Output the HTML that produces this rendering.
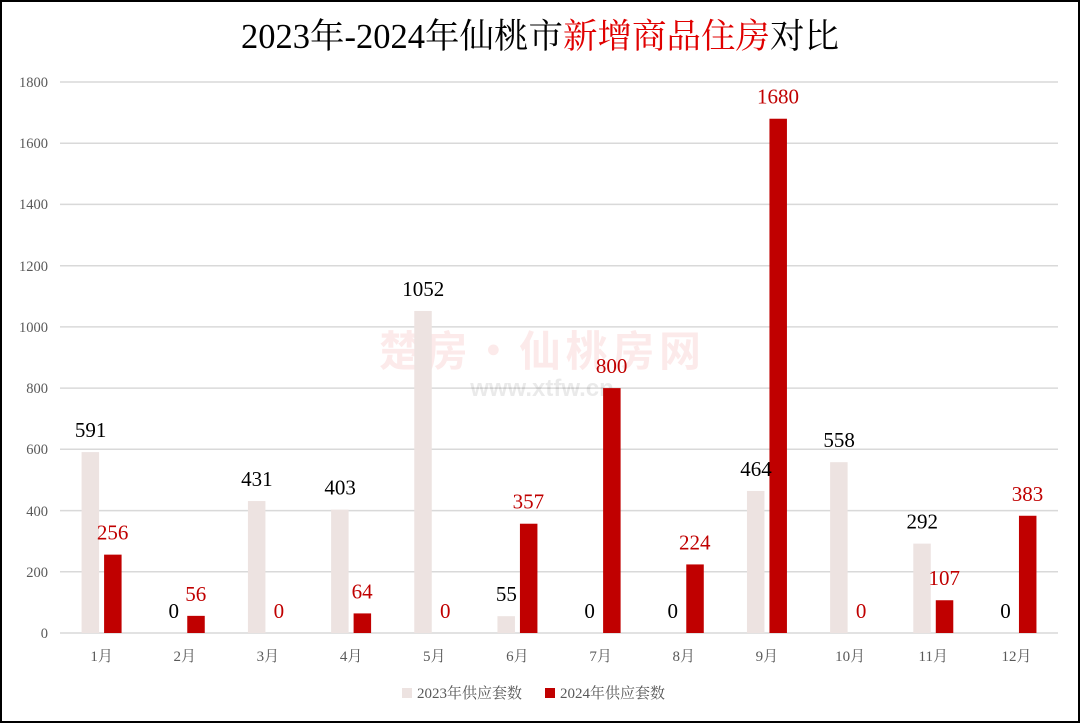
<!DOCTYPE html>
<html><head><meta charset="utf-8"><style>
html,body{margin:0;padding:0;background:#fff}
svg{display:block}
</style></head><body>
<svg width="1080" height="723" xmlns="http://www.w3.org/2000/svg">
<rect x="1" y="1" width="1078" height="721" fill="#fff" stroke="#000" stroke-width="2"/>
<text x="540" y="48" text-anchor="middle" font-family="Liberation Serif,'Noto Serif CJK SC',serif" font-size="34.5" fill="#000">2023年-2024年仙桃市<tspan fill="#e00000">新增商品住房</tspan>对比</text>
<g stroke="#d9d9d9" stroke-width="1.5">
<line x1="60" x2="1058" y1="82" y2="82"/><line x1="60" x2="1058" y1="143.2" y2="143.2"/>
<line x1="60" x2="1058" y1="204.4" y2="204.4"/><line x1="60" x2="1058" y1="265.7" y2="265.7"/>
<line x1="60" x2="1058" y1="326.9" y2="326.9"/><line x1="60" x2="1058" y1="388.1" y2="388.1"/>
<line x1="60" x2="1058" y1="449.3" y2="449.3"/><line x1="60" x2="1058" y1="510.6" y2="510.6"/>
<line x1="60" x2="1058" y1="571.8" y2="571.8"/><line x1="60" x2="1058" y1="633" y2="633"/>
</g>
<g font-family="Liberation Serif,serif" font-size="14.5" fill="#595959" text-anchor="end">
<text x="48" y="87">1800</text><text x="48" y="148">1600</text><text x="48" y="209">1400</text>
<text x="48" y="271">1200</text><text x="48" y="332">1000</text><text x="48" y="393">800</text>
<text x="48" y="454">600</text><text x="48" y="516">400</text><text x="48" y="577">200</text><text x="48" y="638">0</text>
</g>
<g font-family="'Noto Sans CJK SC',sans-serif" font-weight="bold" font-size="42" fill="#e00000" opacity="0.08" text-anchor="middle">
<text x="540" y="366" textLength="322">楚房·仙桃房网</text></g>
<text x="542" y="396" text-anchor="middle" font-family="Liberation Sans,sans-serif" font-weight="bold" font-size="24" fill="#000" opacity="0.08">www.xtfw.cn</text>
<g id="bars"></g>
<g font-family="Liberation Serif,'Noto Serif CJK SC',serif" font-size="15" fill="#595959" text-anchor="middle" id="xl"></g>
<g id="lab" font-family="Liberation Serif,serif" font-size="21" text-anchor="middle"></g>
<rect x="402" y="688" width="10" height="10" fill="#ede3e1"/>
<text x="417" y="698" font-family="Liberation Serif,'Noto Serif CJK SC',serif" font-size="15" fill="#595959">2023年供应套数</text>
<rect x="545" y="688" width="10" height="10" fill="#c00000"/>
<text x="560" y="698" font-family="Liberation Serif,'Noto Serif CJK SC',serif" font-size="15" fill="#595959">2024年供应套数</text>
<script>
var a=[591,0,431,403,1052,55,0,0,464,558,292,0],b=[256,56,0,64,0,357,800,224,1680,0,107,383];
var s=551/1800,ns="http://www.w3.org/2000/svg",B=document.getElementById('bars'),L=document.getElementById('lab'),X=document.getElementById('xl');
function el(p,t,at,tx){var e=document.createElementNS(ns,t);for(var k in at)e.setAttribute(k,at[k]);if(tx!=null)e.textContent=tx;p.appendChild(e);}
for(var i=0;i<12;i++){var c=60+83.17*(i+0.5);
var ha=a[i]*s,hb=b[i]*s;
if(ha>0)el(B,'rect',{x:c-20,y:633-ha,width:17.5,height:ha,fill:'#ede3e1'});
if(hb>0)el(B,'rect',{x:c+2.5,y:633-hb,width:17.5,height:hb,fill:'#c00000'});
el(L,'text',{x:c-11,y:633-ha-15,fill:'#000'},a[i]);
el(L,'text',{x:c+11,y:633-hb-15,fill:'#c00000'},b[i]);
el(X,'text',{x:c,y:661},(i+1)+'月');}
</script>
</svg>
</body></html>
